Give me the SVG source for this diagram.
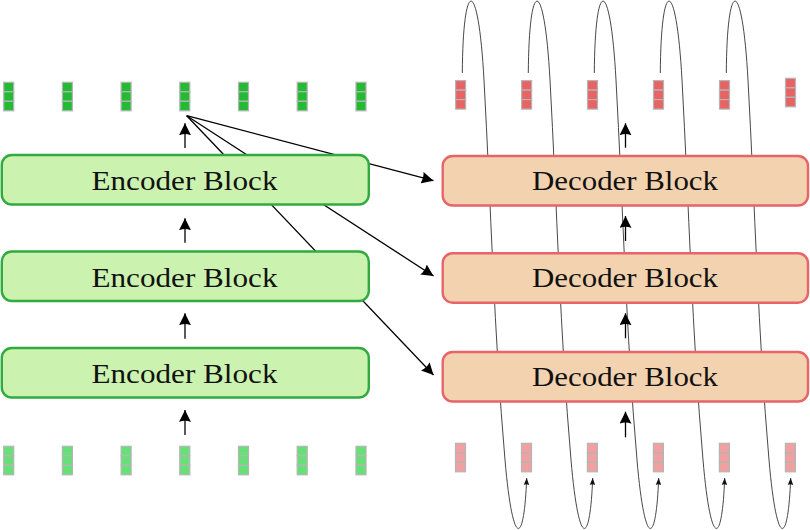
<svg xmlns="http://www.w3.org/2000/svg" xmlns:xlink="http://www.w3.org/1999/xlink" width="810" height="530" viewBox="0 0 810 530">
  <style>
    .enc rect { fill: #ccf2b0; stroke: #2fab40; stroke-width: 2.4; }
    .dec rect { fill: #f3d2b0; stroke: #e8636a; stroke-width: 2.4; }
    .lbl { font-family: "Liberation Serif", "Times New Roman", serif; font-size: 27px; fill: #111; text-anchor: middle; }
    .tok { stroke: #b5b5b5; stroke-width: 1.2; }
    .eo { fill: #22bb33; }
    .ei { fill: #66e077; }
    .do { fill: #e86464; }
    .di { fill: #f0a0a0; }
    .arr { stroke: #000; stroke-width: 1.3; fill: none; }
    .loop { stroke: #333; stroke-width: 0.9; fill: none; }
  </style>
  <defs>
    <marker id="ah" markerUnits="userSpaceOnUse" markerWidth="12" markerHeight="12" refX="10" refY="5" orient="auto" viewBox="0 0 10 10">
      <path d="M0,0 L10,5 L0,10 Q2,5 0,0 z" fill="#000"/>
    </marker>
    <marker id="ahs" markerUnits="userSpaceOnUse" markerWidth="7" markerHeight="6" refX="7" refY="2.75" orient="auto" viewBox="0 0 7 5.5">
      <path d="M0,0 L7,2.75 L0,5.5 Q1.3,2.75 0,0 z" fill="#111"/>
    </marker>
    <g id="tk">
      <rect x="-5" y="0" width="10" height="9.5"/>
      <rect x="-5" y="9.5" width="10" height="9.5"/>
      <rect x="-5" y="19" width="10" height="9.5"/>
    </g>
  </defs>

  <!-- connectors -->
  <g id="connectors">
    <!-- autoregressive loops -->
    <path class="loop" marker-end="url(#ahs)" d="M462.3,73 C463,-24 478.3,-24 484,80 C491,207 494,333 505,460 C512.6,548 524,548 526.7,478"/>
    <path class="loop" marker-end="url(#ahs)" transform="translate(66,0)" d="M462.3,73 C463,-24 478.3,-24 484,80 C491,207 494,333 505,460 C512.6,548 524,548 526.7,478"/>
    <path class="loop" marker-end="url(#ahs)" transform="translate(132,0)" d="M462.3,73 C463,-24 478.3,-24 484,80 C491,207 494,333 505,460 C512.6,548 524,548 526.7,478"/>
    <path class="loop" marker-end="url(#ahs)" transform="translate(198,0)" d="M462.3,73 C463,-24 478.3,-24 484,80 C491,207 494,333 505,460 C512.6,548 524,548 526.7,478"/>
    <path class="loop" marker-end="url(#ahs)" transform="translate(264,0)" d="M462.3,73 C463,-24 478.3,-24 484,80 C491,207 494,333 505,460 C512.6,548 524,548 526.7,478"/>

    <!-- encoder output to decoder blocks -->
    <line class="arr" marker-end="url(#ah)" x1="186.7" y1="115.7" x2="433.5" y2="180.7"/>
    <line class="arr" marker-end="url(#ah)" x1="186.7" y1="115.7" x2="433.5" y2="276"/>
    <line class="arr" marker-end="url(#ah)" x1="186.7" y1="115.7" x2="433.5" y2="375"/>

    <!-- encoder up arrows -->
    <line class="arr" marker-end="url(#ah)" x1="185" y1="148" x2="185" y2="123.3"/>
    <line class="arr" marker-end="url(#ah)" x1="185" y1="242.7" x2="185" y2="218.3"/>
    <line class="arr" marker-end="url(#ah)" x1="185" y1="338.7" x2="185" y2="313.3"/>
    <line class="arr" marker-end="url(#ah)" x1="185" y1="435" x2="185" y2="410"/>

    <!-- decoder up arrows -->
    <line class="arr" marker-end="url(#ah)" x1="625.5" y1="147.7" x2="625.5" y2="123.3"/>
    <line class="arr" marker-end="url(#ah)" x1="625.5" y1="241" x2="625.5" y2="216"/>
    <line class="arr" marker-end="url(#ah)" x1="625.5" y1="338.3" x2="625.5" y2="313.3"/>
    <line class="arr" marker-end="url(#ah)" x1="625.5" y1="437.3" x2="625.5" y2="411.7"/>
  </g>

  <!-- encoder blocks -->
  <g id="enc1" class="enc"><rect x="1.8" y="155" width="367" height="49.5" rx="10"/><text class="lbl" x="184.5" y="190.3" textLength="186" lengthAdjust="spacingAndGlyphs">Encoder Block</text></g>
  <g id="enc2" class="enc"><rect x="1.8" y="251.5" width="367" height="49.5" rx="10"/><text class="lbl" x="184.5" y="286.8" textLength="186" lengthAdjust="spacingAndGlyphs">Encoder Block</text></g>
  <g id="enc3" class="enc"><rect x="1.8" y="348" width="367" height="49.5" rx="10"/><text class="lbl" x="184.5" y="383.3" textLength="186" lengthAdjust="spacingAndGlyphs">Encoder Block</text></g>

  <!-- decoder blocks -->
  <g id="dec1" class="dec"><rect x="442.7" y="156" width="365.3" height="49.5" rx="10"/><text class="lbl" x="625" y="189.7" textLength="186" lengthAdjust="spacingAndGlyphs">Decoder Block</text></g>
  <g id="dec2" class="dec"><rect x="442.7" y="253.2" width="365.3" height="49.5" rx="10"/><text class="lbl" x="625" y="287" textLength="186" lengthAdjust="spacingAndGlyphs">Decoder Block</text></g>
  <g id="dec3" class="dec"><rect x="442.7" y="352" width="365.3" height="49.5" rx="10"/><text class="lbl" x="625" y="385.7" textLength="186" lengthAdjust="spacingAndGlyphs">Decoder Block</text></g>

  <!-- encoder output tokens -->
  <g id="enc-out" class="tok eo">
    <use xlink:href="#tk" href="#tk" x="8.7" y="82.3"/>
    <use xlink:href="#tk" href="#tk" x="67.4" y="82.3"/>
    <use xlink:href="#tk" href="#tk" x="126.1" y="82.3"/>
    <use xlink:href="#tk" href="#tk" x="184.8" y="82.3"/>
    <use xlink:href="#tk" href="#tk" x="243.5" y="82.3"/>
    <use xlink:href="#tk" href="#tk" x="302.2" y="82.3"/>
    <use xlink:href="#tk" href="#tk" x="361" y="82.3"/>
  </g>
  <!-- encoder input tokens -->
  <g id="enc-in" class="tok ei">
    <use xlink:href="#tk" href="#tk" x="8.7" y="446.3"/>
    <use xlink:href="#tk" href="#tk" x="67.4" y="446.3"/>
    <use xlink:href="#tk" href="#tk" x="126.1" y="446.3"/>
    <use xlink:href="#tk" href="#tk" x="184.8" y="446.3"/>
    <use xlink:href="#tk" href="#tk" x="243.5" y="446.3"/>
    <use xlink:href="#tk" href="#tk" x="302.2" y="446.3"/>
    <use xlink:href="#tk" href="#tk" x="361" y="446.3"/>
  </g>
  <!-- decoder output tokens -->
  <g id="dec-out" class="tok do">
    <use xlink:href="#tk" href="#tk" x="460.6" y="80.6"/>
    <use xlink:href="#tk" href="#tk" x="526.6" y="80.6"/>
    <use xlink:href="#tk" href="#tk" x="592.5" y="80.6"/>
    <use xlink:href="#tk" href="#tk" x="658.5" y="80.6"/>
    <use xlink:href="#tk" href="#tk" x="724.5" y="80.6"/>
    <use xlink:href="#tk" href="#tk" x="790.5" y="78.3"/>
  </g>
  <!-- decoder input tokens -->
  <g id="dec-in" class="tok di">
    <use xlink:href="#tk" href="#tk" x="460.5" y="443.3"/>
    <use xlink:href="#tk" href="#tk" x="526.5" y="443.3"/>
    <use xlink:href="#tk" href="#tk" x="592.4" y="443.3"/>
    <use xlink:href="#tk" href="#tk" x="658.4" y="443.3"/>
    <use xlink:href="#tk" href="#tk" x="724.4" y="443.3"/>
    <use xlink:href="#tk" href="#tk" x="790.4" y="443.3"/>
  </g>
</svg>
